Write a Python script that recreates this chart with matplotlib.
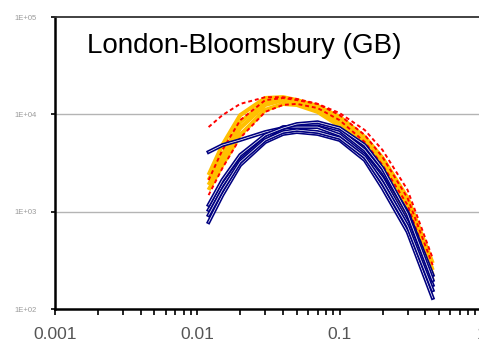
import matplotlib
matplotlib.use('Agg')
import matplotlib.pyplot as plt
from matplotlib.ticker import LogLocator, FixedLocator, NullFormatter

# particle diameter (um) sample points
diam = [0.012, 0.015, 0.02, 0.03, 0.04, 0.05, 0.07, 0.1, 0.15, 0.2, 0.3, 0.45]

# number size distributions (dN/dlogD)
orange_series = [
    [1880, 3390, 7230, 12500, 14000, 13400, 11600, 8700, 5450, 3240, 1320, 251],
    [2380, 4830, 9800, 14700, 15000, 14000, 12200, 9400, 5850, 3560, 1380, 296],
    [1670, 3010, 6130, 11100, 12800, 12500, 10600, 7580, 4610, 2680, 945, 198],
    [2110, 3820, 8300, 13400, 14400, 13400, 11100, 8300, 5190, 3010, 1170, 223],
]
red_series = [
    [7400, 9800, 12800, 15000, 15000, 14400, 12800, 10300, 6900, 4300, 1670, 333],
    [2110, 4300, 8700, 14000, 14700, 14000, 12800, 9800, 6130, 3640, 1380, 283],
    [1480, 2800, 5710, 10600, 12500, 12800, 11600, 8700, 5190, 3010, 1170, 223],
]
navy_series = [
    [4100, 4830, 5450, 6580, 7230, 7760, 7950, 6900, 4300, 2550, 990, 223],
    [1040, 1880, 3390, 5710, 7400, 7400, 7400, 6130, 3820, 2210, 780, 176],
    [780, 1480, 3010, 5190, 6280, 6580, 6280, 5450, 3390, 1750, 620, 130],
    [1170, 2110, 3820, 6130, 7230, 7950, 8300, 7230, 4830, 2800, 945, 198],
    [920, 1670, 3240, 5450, 6580, 6900, 6580, 5710, 3640, 1970, 710, 156],
]

title = "London-Bloomsbury (GB)"
x_ticks = [0.001, 0.01, 0.1, 1]
x_labels = ["0.001", "0.01", "0.1", "1"]
y_ticks = [1e2, 1e3, 1e4, 1e5]
y_labels = ["1E+02", "1E+03", "1E+04", "1E+05"]

fig = plt.figure(figsize=(4.79, 3.44), dpi=100)
ax = fig.add_axes([55 / 479, 1 - 309 / 344, 427 / 479, 292 / 344])
ax.set_xscale('log')
ax.set_yscale('log')
ax.set_xlim(0.001, 1)
ax.set_ylim(1e2, 1e5)

for s in orange_series:
    ax.plot(diam, s, color='#FFC000', lw=3.0, solid_capstyle='butt', zorder=3)
for s in red_series:
    ax.plot(diam, s, color='#FF0000', lw=1.4, ls=(0, (2, 1.5)), zorder=4)
for s in navy_series:
    ax.plot(diam, s, color='#000080', lw=2.8, zorder=5)
    ax.plot(diam, s, color='white', lw=0.5, zorder=5)

for yv in [1e3, 1e4]:
    ax.axhline(yv, color='#b4b4b4', lw=1.0, zorder=1)

ax.text(0.075, 0.90, title, transform=ax.transAxes, fontsize=20,
        family='Liberation Sans', va='center', ha='left', color='black')

ax.xaxis.set_major_locator(FixedLocator(x_ticks))
ax.set_xticklabels(x_labels)
ax.xaxis.set_minor_locator(LogLocator(base=10, subs=range(2, 10)))
ax.xaxis.set_minor_formatter(NullFormatter())
ax.yaxis.set_major_locator(FixedLocator(y_ticks))
ax.set_yticklabels(y_labels)
ax.yaxis.set_minor_locator(FixedLocator([]))

ax.tick_params(axis='x', which='both', direction='out', length=4, width=1.2,
               labelsize=12.5, labelcolor='#555555', pad=9)
for lab in ax.get_xticklabels():
    lab.set_family('Liberation Sans')
ax.tick_params(axis='y', which='major', direction='out', length=3, width=1.2,
               labelsize=5.5, labelcolor='#9a9a9a', pad=10)
for lab in ax.get_yticklabels():
    lab.set_family('Liberation Sans')

ax.spines['left'].set_linewidth(1.8)
ax.spines['bottom'].set_linewidth(1.8)
ax.spines['top'].set_linewidth(1.3)
ax.spines['top'].set_color('#333333')
ax.spines['right'].set_visible(False)

plt.savefig('out.png', dpi=100)
plt.close(fig)
